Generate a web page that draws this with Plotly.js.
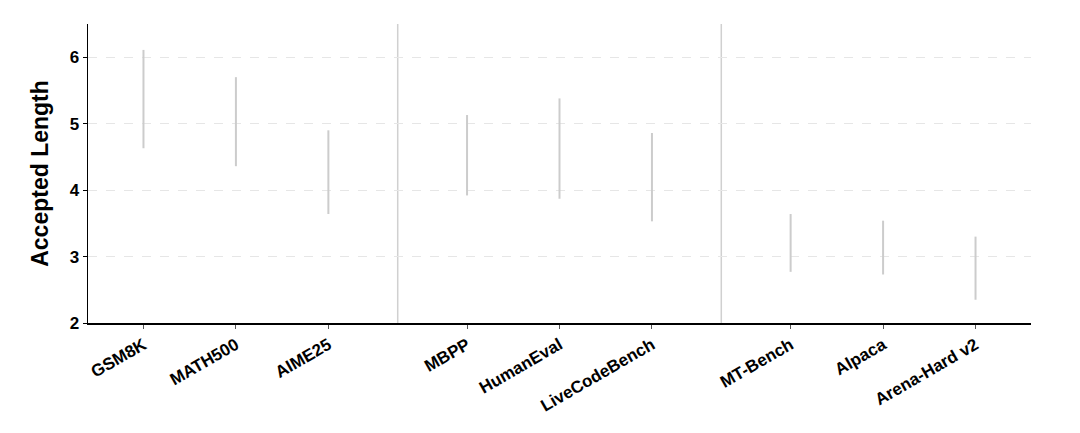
<!DOCTYPE html>
<html>
<head>
<meta charset="utf-8">
<script src="https://cdn.plot.ly/plotly-3.0.1.min.js"></script>
<style>html,body{margin:0;padding:0;background:#fff;}#chart{width:1080px;height:433px;}</style>
</head>
<body>
<div id="chart"></div>
<script>
const categories = ["GSM8K","MATH500","AIME25","MBPP","HumanEval","LiveCodeBench","MT-Bench","Alpaca","Arena-Hard v2"];
const positions = [0, 1, 2, 3.5, 4.5, 5.5, 7, 8, 9];
const lowValues  = [4.63, 4.36, 3.64, 3.92, 3.87, 3.53, 2.77, 2.73, 2.35];
const highValues = [6.11, 5.70, 4.90, 5.13, 5.38, 4.86, 3.64, 3.54, 3.30];
const separators = [2.75, 6.25];
const yTicks = [2, 3, 4, 5, 6];

const xs = [], ys = [];
positions.forEach((p, i) => { xs.push(p, p, null); ys.push(lowValues[i], highValues[i], null); });

const font = "'Liberation Sans', Arial, sans-serif";
const data = [{
  type: 'scatter', mode: 'lines', x: xs, y: ys,
  line: {color: '#cccccc', width: 2}, hoverinfo: 'skip', showlegend: false
}];
const shapes = separators.map(s => ({
  type: 'line', xref: 'x', yref: 'paper', x0: s, x1: s, y0: 0, y1: 1,
  line: {color: '#d0d0d0', width: 1.5}, layer: 'below'
}));
const layout = {
  width: 1080, height: 433,
  margin: {l: 88, r: 49, t: 24, b: 110},
  paper_bgcolor: '#fff', plot_bgcolor: '#fff',
  font: {family: font, color: '#000'},
  shapes: shapes,
  xaxis: {
    range: [-0.6, 9.6], tickmode: 'array', tickvals: positions, ticktext: categories,
    tickangle: -30, tickfont: {family: font, size: 17, color: '#000', weight: 'bold'},
    showgrid: false, zeroline: false, showline: true, linecolor: '#000', linewidth: 1.5,
    ticks: 'outside', ticklen: 4, tickcolor: '#555', tickwidth: 1
  },
  yaxis: {
    range: [2, 6.5], tickmode: 'array', tickvals: yTicks,
    tickfont: {family: font, size: 17, color: '#000', weight: 'bold'},
    title: {text: 'Accepted Length', font: {family: font, size: 23, color: '#000', weight: 'bold'}, standoff: 14},
    showgrid: true, gridcolor: '#e6e6e6', griddash: 'dash', gridwidth: 1,
    zeroline: false, showline: true, linecolor: '#000', linewidth: 1.5,
    ticks: 'outside', ticklen: 4, tickcolor: '#000', tickwidth: 1
  }
};
Plotly.newPlot('chart', data, layout, {displayModeBar: false, staticPlot: true});
</script>
</body>
</html>
